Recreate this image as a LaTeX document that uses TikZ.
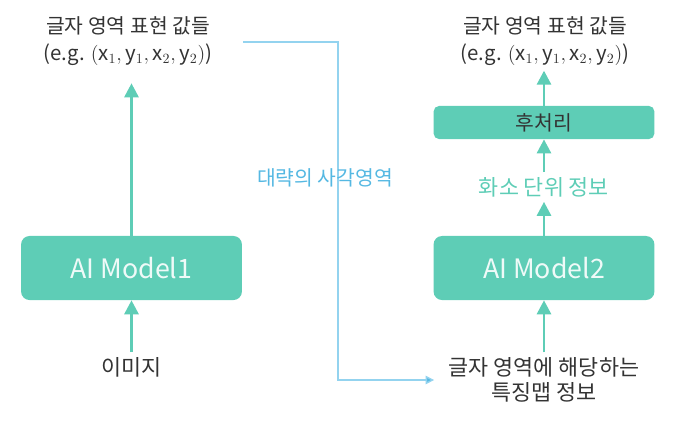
\documentclass[tikz,border=0pt]{standalone}
\usepackage{fontspec}
\setmainfont{Noto Sans CJK KR}
\usetikzlibrary{arrows.meta,positioning}
\definecolor{mint}{HTML}{5ECDB6}
\definecolor{sky}{HTML}{93D3EF}
\definecolor{skytext}{HTML}{55B8E2}
\definecolor{ink}{HTML}{333333}
\tikzset{
  title/.style={align=center, text=ink, font=\fontsize{14.5}{19.5}\selectfont},
  plain/.style={align=center, text=ink, font=\fontsize{15.5}{18}\selectfont},
  model/.style={fill=mint, rounded corners=6pt, minimum width=5.52cm, minimum height=1.6cm,
    text=white!90!mint, font=\fontsize{19}{22}\selectfont},
  post/.style={fill=mint, rounded corners=4pt, minimum width=5.52cm, minimum height=0.83cm,
    text=ink, font=\fontsize{14.5}{17}\selectfont},
  up/.style={draw=mint, line width=2pt, -{Triangle[length=10pt,width=10pt]}},
  rough/.style={draw=sky, line width=1pt, -{Triangle[length=6pt,width=6pt,fill=skytext]}}
}
\newcommand{\coords}{$(\mathrm{x}_1, \mathrm{y}_1, \mathrm{x}_2, \mathrm{y}_2)$}
\begin{document}
\begin{tikzpicture}[x=0.025cm,y=-0.025cm]
\useasboundingbox (0,0) rectangle (700,430);

% left branch
\node[title] (out1) at (128,41) {글자 영역 표현 값들\\(e.g. \coords)};
\node[model] (m1) at (131.5,268) {AI Model1};
\node[plain] (img) at (131.5,367) {이미지};
\draw[up] (img) -- (m1);
\draw[up, shorten >=9pt] (m1) -- (m1 |- out1.south);

% right branch
\node[title] (out2) at (545,41) {글자 영역 표현 값들\\(e.g. \coords)};
\node[post] (post) at (544,122.5) {후처리};
\node[plain, text=mint] (pix) at (544,187) {화소 단위 정보};
\node[model] (m2) at (544,268) {AI Model2};
\node[plain] (feat) at (544,380) {글자 영역에 해당하는\\특징맵 정보};
\draw[up] (feat) -- (m2);
\draw[up] (m2) -- (pix);
\draw[up] (pix) -- (post);
\draw[up] (post) -- (post |- out2.south);

% rough box region
\coordinate (from) at (243,42);
\coordinate (bend) at (338,42);
\draw[rough, shorten >=7pt] (from) -- (bend) |- (feat.west);
\node[text=skytext, font=\fontsize{14.5}{17}\selectfont] (lbl) at (325,178) {대략의 사각영역};
\end{tikzpicture}
\end{document}
